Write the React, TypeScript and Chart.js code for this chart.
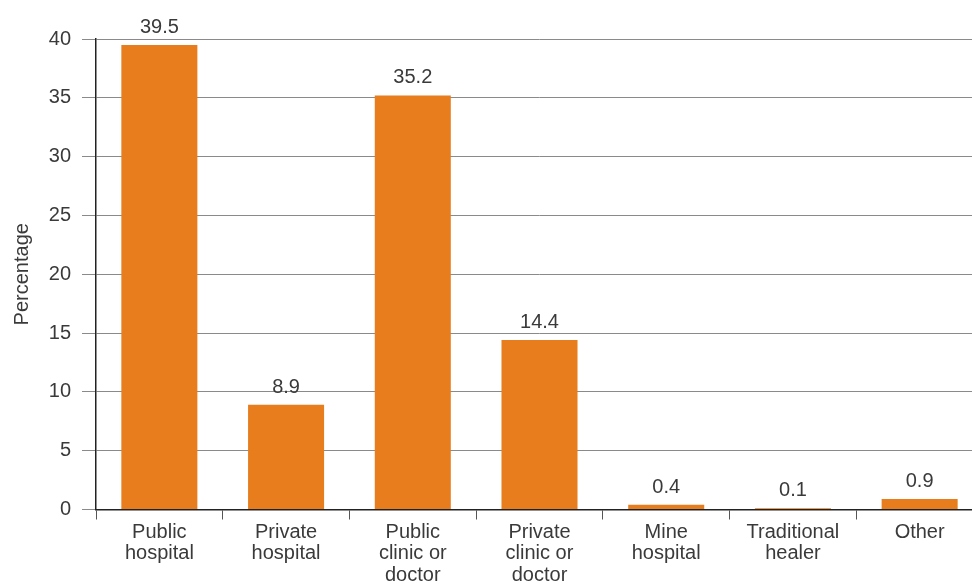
import React, { useEffect, useRef } from "react";
import { Chart, registerables } from "chart.js";

Chart.register(...registerables);

const categories: string[][] = [
  ["Public", "hospital"],
  ["Private", "hospital"],
  ["Public", "clinic or", "doctor"],
  ["Private", "clinic or", "doctor"],
  ["Mine", "hospital"],
  ["Traditional", "healer"],
  ["Other"],
];
const values: number[] = [39.5, 8.9, 35.2, 14.4, 0.4, 0.1, 0.9];
const valueLabels: string[] = ["39.5", "8.9", "35.2", "14.4", "0.4", "0.1", "0.9"];
const yMin = 0;
const yMax = 40;
const yStep = 5;
const yTitle = "Percentage";

const FONT = "'Liberation Sans', Arial, Helvetica, sans-serif";
const TEXT = "#3a3a3a";
const BAR = "#E87D1E";

const dataLabelPlugin = {
  id: "dataLabels",
  afterDatasetsDraw(chart: any) {
    const ctx = chart.ctx;
    const meta = chart.getDatasetMeta(0);
    ctx.save();
    ctx.font = `20px ${FONT}`;
    ctx.fillStyle = TEXT;
    ctx.textAlign = "center";
    ctx.textBaseline = "alphabetic";
    meta.data.forEach((bar: any, i: number) => {
      ctx.fillText(valueLabels[i], bar.x, bar.y - 12);
    });
    ctx.restore();
  },
};

export default function App() {
  const ref = useRef<HTMLCanvasElement | null>(null);

  useEffect(() => {
    if (!ref.current) return;
    const chart = new Chart(ref.current, {
      type: "bar",
      data: {
        labels: categories,
        datasets: [
          {
            data: values,
            backgroundColor: BAR,
            borderWidth: 0,
            barPercentage: 0.6,
            categoryPercentage: 1.0,
          },
        ],
      },
      options: {
        animation: false,
        responsive: true,
        maintainAspectRatio: false,
        layout: { padding: { top: 39, right: 7, bottom: 0, left: 0 } },
        plugins: {
          legend: { display: false },
          tooltip: { enabled: false },
        },
        scales: {
          x: {
            grid: {
              offset: true,
              drawOnChartArea: false,
              drawTicks: true,
              tickLength: 10,
              color: "#555",
              lineWidth: 1,
            },
            border: { color: "#222", width: 1.5 },
            ticks: {
              color: TEXT,
              font: { family: FONT, size: 20, lineHeight: 1.08 },
              padding: 2,
              maxRotation: 0,
              autoSkip: false,
            },
            afterFit: (s: any) => {
              s.height = 75.5;
            },
          },
          y: {
            min: yMin,
            max: yMax,
            ticks: {
              stepSize: yStep,
              color: TEXT,
              font: { family: FONT, size: 20 },
              padding: 11,
            },
            grid: {
              color: "#8a8a8a",
              lineWidth: 1,
              drawTicks: true,
              tickLength: 14,
            },
            border: { color: "#222", width: 1.5 },
            title: {
              display: true,
              text: yTitle,
              color: TEXT,
              font: { family: FONT, size: 20 },
              padding: { top: 10, bottom: 0 },
            },
            afterFit: (s: any) => {
              s.width = 96;
            },
          },
        },
      },
      plugins: [dataLabelPlugin],
    });
    return () => chart.destroy();
  }, []);

  return (
    <div
      style={{
        position: "fixed",
        left: 0,
        top: 0,
        width: 972,
        height: 585,
        overflow: "hidden",
        background: "#fff",
      }}
    >
      <div style={{ position: "relative", width: 990, height: 585 }}>
        <canvas ref={ref} />
      </div>
    </div>
  );
}
